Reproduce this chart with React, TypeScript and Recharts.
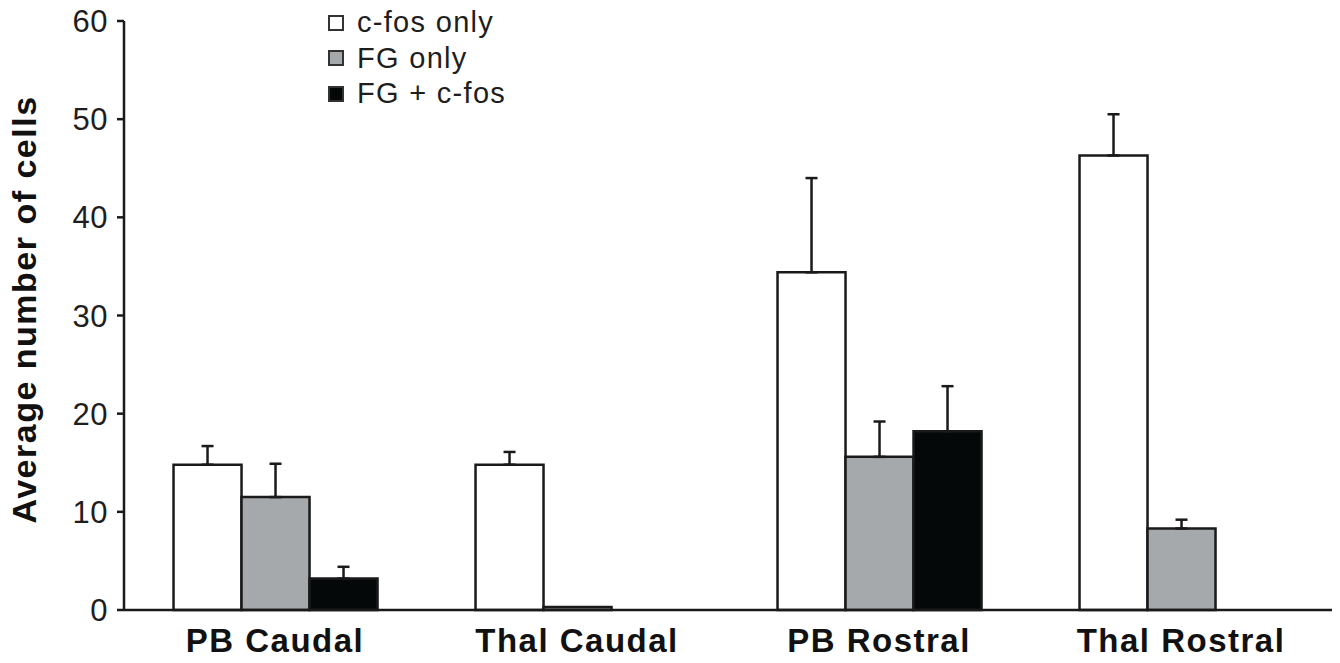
import { BarChart, Bar, XAxis, YAxis, ErrorBar, Legend, Label } from 'recharts';

const categories = ['PB Caudal', 'Thal Caudal', 'PB Rostral', 'Thal Rostral'];
const cfosOnly = [14.8, 14.8, 34.4, 46.3];
const cfosOnlyErr = [1.9, 1.3, 9.6, 4.2];
const fgOnly = [11.5, 0.3, 15.6, 8.3];
const fgOnlyErr = [3.4, null, 3.6, 0.9];
const fgCfos = [3.2, null, 18.2, null];
const fgCfosErr = [1.2, null, 4.6, null];
const yTicks = [0, 10, 20, 30, 40, 50, 60];

const FONT = '"Liberation Sans", Arial, sans-serif';
const INK = '#1a1a1a';

const series = [
  { key: 'cfos', name: 'c-fos only', fill: '#ffffff' },
  { key: 'fg', name: 'FG only', fill: '#a6a9ab' },
  { key: 'both', name: 'FG + c-fos', fill: '#050808' },
];

// only the upper whisker is drawn, so the lower error is 0
const up = (e: number | null) => (e == null ? null : [0, e]);

const data = categories.map((name, i) => ({
  name,
  cfos: cfosOnly[i],
  cfosErr: up(cfosOnlyErr[i]),
  fg: fgOnly[i],
  fgErr: up(fgOnlyErr[i]),
  both: fgCfos[i],
  bothErr: up(fgCfosErr[i]),
}));

const XTick = ({ x, y, payload }: any) => (
  <text
    x={x}
    y={y}
    dy={34}
    textAnchor="middle"
    fontFamily={FONT}
    fontSize={33}
    fontWeight="bold"
    letterSpacing={1.5}
    fill="#111"
  >
    {payload.value}
  </text>
);

const YTitle = (props: any) => {
  const vb = props.viewBox;
  const cy = vb.y + vb.height / 2 - 6;
  return (
    <text
      transform={`translate(${vb.x + 36}, ${cy}) rotate(-90)`}
      textAnchor="middle"
      fontFamily={FONT}
      fontSize={34}
      fontWeight="bold"
      letterSpacing={1.5}
      fill="#111"
    >
      Average number of cells
    </text>
  );
};

const LegendBox = () => (
  <div style={{ fontFamily: FONT }}>
    {series.map((s) => (
      <div key={s.key} style={{ display: 'flex', alignItems: 'center', height: 35.5 }}>
        <span
          style={{
            width: 12,
            height: 12,
            background: s.fill,
            border: `2px solid #333`,
            marginRight: 13,
            display: 'inline-block',
          }}
        />
        <span style={{ fontSize: 29, letterSpacing: 1.3, color: '#1e1e1e', lineHeight: '35px' }}>{s.name}</span>
      </div>
    ))}
  </div>
);

export default function App() {
  return (
    <div style={{ width: 1340, height: 663, background: '#fff' }}>
      <style>{`body{margin:0}`}</style>
      <BarChart
        width={1340}
        height={663}
        data={data}
        margin={{ top: 21, right: 8, left: 0, bottom: 0 }}
        barCategoryGap="16.4%"
        barGap={0}
      >
        <XAxis
          dataKey="name"
          height={53}
          tickLine={false}
          axisLine={{ stroke: INK, strokeWidth: 2.5 }}
          tick={<XTick />}
          interval={0}
        />
        <YAxis
          width={124}
          domain={[0, 60]}
          ticks={yTicks}
          interval={0}
          tickSize={7}
          tickMargin={9}
          axisLine={{ stroke: INK, strokeWidth: 2.5 }}
          tickLine={{ stroke: INK, strokeWidth: 2.5 }}
          tick={{ fontFamily: FONT, fontSize: 31, letterSpacing: 0.5, fill: '#1e1e1e' }}
        >
          <Label content={<YTitle />} />
        </YAxis>
        <Legend
          layout="horizontal"
          verticalAlign="middle"
          align="center"
          content={<LegendBox />}
          wrapperStyle={{ top: 5, left: 328, width: 'auto', right: 'auto', bottom: 'auto' }}
        />
        {series.map((s) => (
          <Bar
            key={s.key}
            dataKey={s.key}
            name={s.name}
            fill={s.fill}
            stroke={INK}
            strokeWidth={2.5}
            isAnimationActive={false}
          >
            <ErrorBar dataKey={`${s.key}Err`} width={6} stroke={INK} strokeWidth={2.5} direction="y" />
          </Bar>
        ))}
      </BarChart>
    </div>
  );
}
